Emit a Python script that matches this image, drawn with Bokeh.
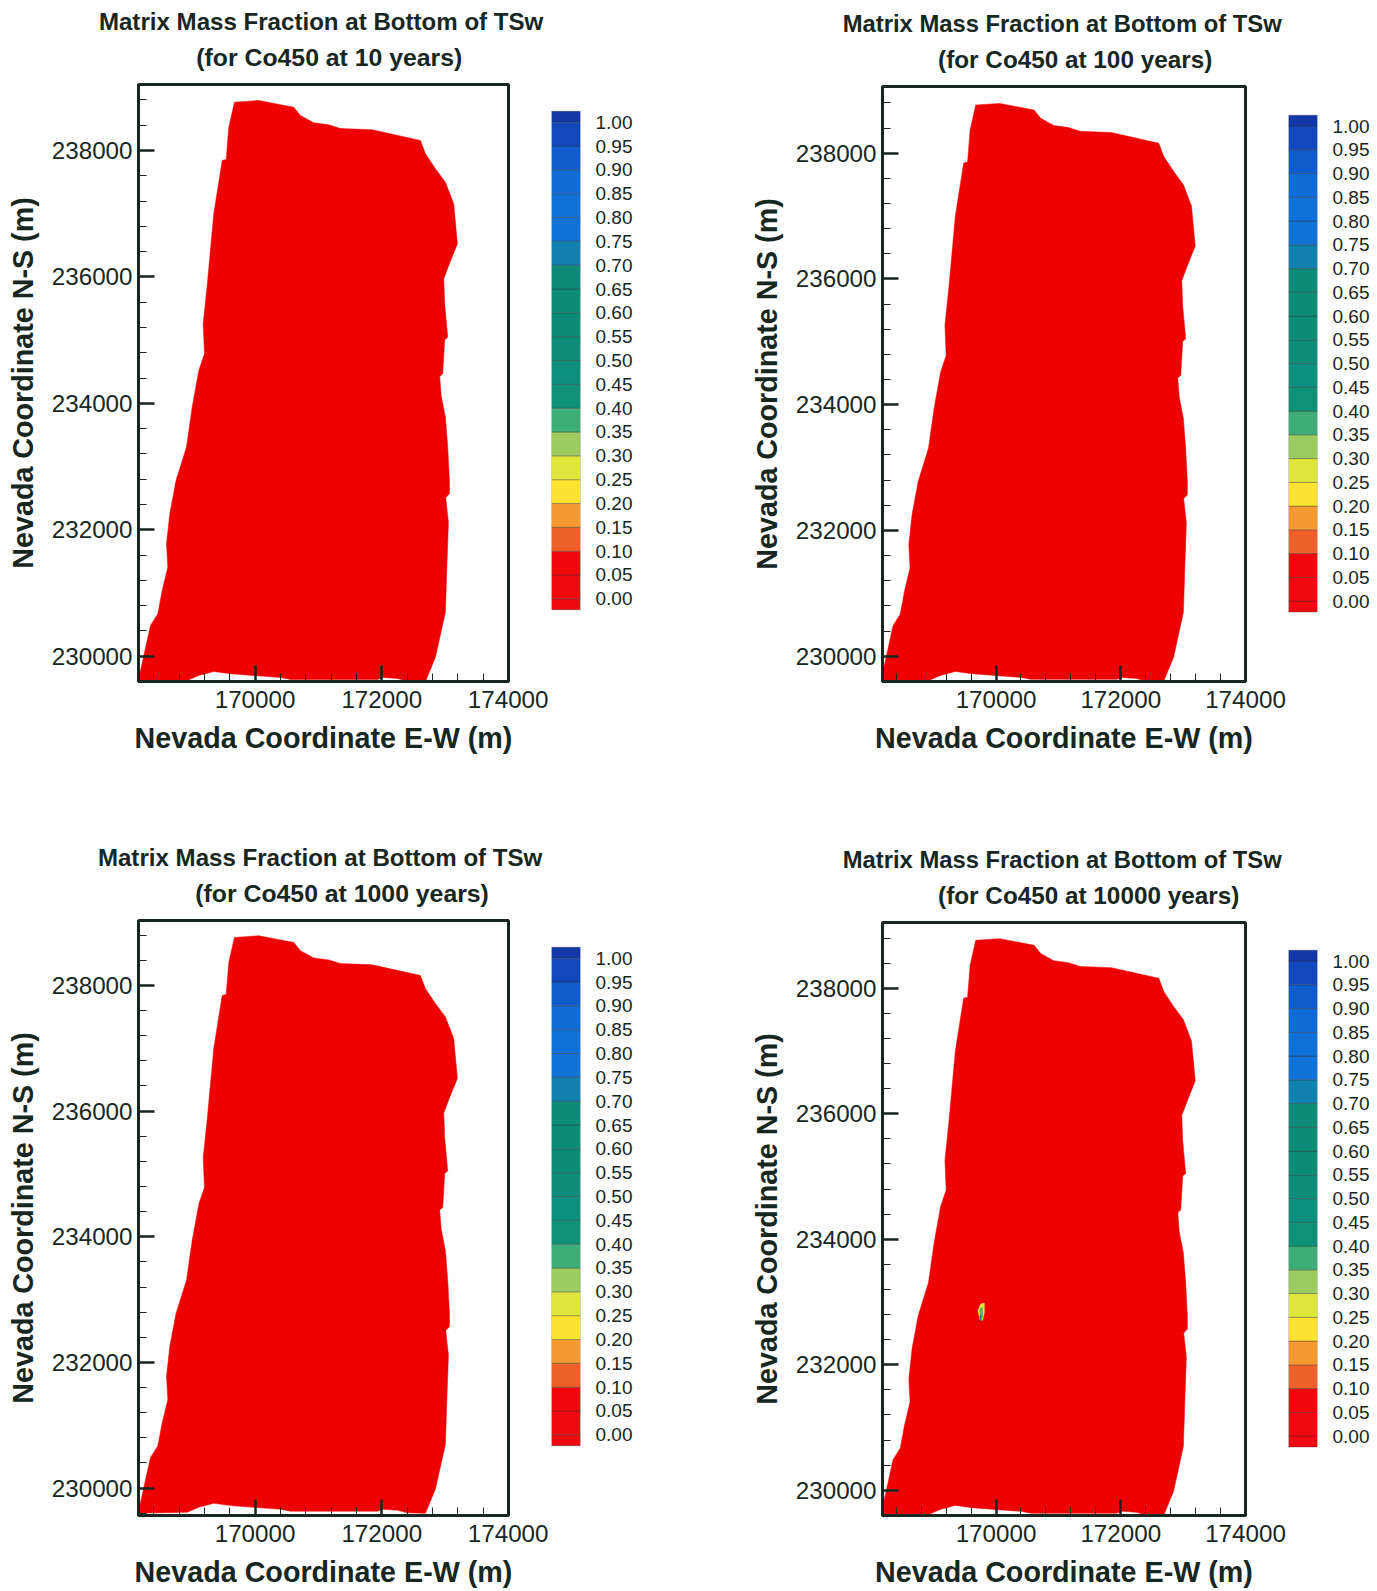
from bokeh.plotting import figure
from bokeh.layouts import column, row
from bokeh.models import FixedTicker, Title, PrintfTickFormatter
from bokeh.embed import file_html
from bokeh.resources import INLINE

boundary_x = [169675,170058,170611,170716,170926,171163,171348,171848,172610,172689,172847,173004,173135,173194,
              173057,172978,172993,173041,172993,172962,172915,172937,173004,173041,173068,173068,173009,173052,
              173031,173004,172847,172689,172405,172247,172026,171931,171237,170559,170401,169612,169348,169112,
              168928,168160,168192,168349,168465,168534,168622,168602,168654,168752,168917,169007,169112,169201,
              169181,169244,169348,169481,169544,169585]
boundary_y = [238765,238791,238685,238554,238439,238407,238348,238328,238159,237948,237711,237499,237157,236524,
              236181,235971,235575,235047,235006,234468,234425,234125,233781,233307,232780,232569,232506,232120,
              231514,230696,229984,229600,229606,229647,229663,229632,229632,229632,229663,229722,229758,229695,
              229616,229600,229774,230486,230671,231040,231408,231778,232253,232780,233307,233939,234520,234784,
              235259,235865,236999,237842,237858,238369]

spot_yellow_x = [169737,169705,169753,169817,169817,169785]
spot_yellow_y = [232718,232860,232971,232987,232829,232702]
spot_green_x = [169737,169737,169785,169793]
spot_green_y = [232749,232892,232923,232765]
spot_blue_x = [169737,169737,169769,169769]
spot_blue_y = [232702,232781,232781,232702]

years = [10, 100, 1000, 10000]
x_major = [170000, 172000, 174000]
y_major = [230000, 232000, 234000, 236000, 238000]
x_minor = [168400,168800,169200,169600,170400,170800,171200,171600,172400,172800,173200,173600]
y_minor = [229600,230400,230800,231200,231600,232400,232800,233200,233600,234400,234800,235200,235600,
           236400,236800,237200,237600,238400,238800]

band_edges = [-0.023,0.0,0.05,0.10,0.15,0.20,0.25,0.30,0.35,0.40,0.45,0.50,0.55,0.60,0.65,0.70,0.75,0.80,0.85,0.90,0.95,1.0,1.023]
band_colors = ["#ee0a10","#ee0a10","#f0080c","#f0602a","#f59a30","#fbe233","#dfe63c","#9ccb62","#3eae78",
               "#0f9178","#0d8f7f","#0e8c7a","#0c8c76","#0c8b76","#0d8a78","#1080ae","#0f72d4","#0f70d6",
               "#0f6cd6","#0f5ccc","#1148bc","#1238a8"]
cbar_ticks = [0.0,0.05,0.10,0.15,0.20,0.25,0.30,0.35,0.40,0.45,0.50,0.55,0.60,0.65,0.70,0.75,0.80,0.85,0.90,0.95,1.0]

INK = "#17261f"
RED = "#ee0000"
FONT = "Liberation Sans"
PX_PER_UNIT = 476.6


def panel(year, x_start, width, left, right, height, top, bottom, y_lo, y_hi, off1, off2, fs1, fs2, shift=0, spot=False):
    p = figure(title=None, width=width, height=height, x_range=(x_start, 174000), y_range=(y_lo, y_hi),
               output_backend="svg", toolbar_location=None, margin=(shift, 0, 0, 0),
               min_border_left=left, min_border_right=right, min_border_top=top, min_border_bottom=bottom,
               x_axis_label="Nevada Coordinate E-W (m)", y_axis_label="Nevada Coordinate N-S (m)")
    p.patch(boundary_x, boundary_y, fill_color=RED, line_color=RED, line_width=0.5)
    if spot:
        p.patch(spot_yellow_x, spot_yellow_y, fill_color="#e8e23c", line_color=None)
        p.patch(spot_green_x, spot_green_y, fill_color="#5cae6c", line_color=None)
        p.patch(spot_blue_x, spot_blue_y, fill_color="#2a70b0", line_color=None)
    p.grid.visible = False
    p.xaxis.ticker = FixedTicker(ticks=x_major, minor_ticks=x_minor)
    p.yaxis.ticker = FixedTicker(ticks=y_major, minor_ticks=y_minor)
    p.xaxis.major_label_overrides = {v: str(v) for v in x_major}
    p.yaxis.major_label_overrides = {v: str(v) for v in y_major}
    for ax in (p.xaxis[0], p.yaxis[0]):
        ax.major_tick_in = 16
        ax.major_tick_out = 0
        ax.minor_tick_in = 8
        ax.minor_tick_out = 0
        ax.major_tick_line_width = 2.5
        ax.minor_tick_line_width = 1
        ax.major_tick_line_color = INK
        ax.minor_tick_line_color = INK
        ax.axis_line_color = INK
        ax.axis_line_width = 3
        ax.major_label_text_font = FONT
        ax.major_label_text_font_size = "24.2px"
        ax.major_label_text_color = INK
        ax.axis_label_text_font = FONT
        ax.axis_label_text_font_size = "28.7px"
        ax.axis_label_text_font_style = "bold"
        ax.axis_label_text_color = INK
    p.yaxis.major_label_standoff = 6
    p.xaxis.major_label_standoff = 9
    p.yaxis.axis_label_standoff = 10
    p.xaxis.axis_label_standoff = 11
    p.outline_line_color = INK
    p.outline_line_width = 3
    p.outline_line_alpha = 1
    for text, st, off, fs in ((f"(for Co450 at {year} years)", 27, off2, fs2),
                              ("Matrix Mass Fraction at Bottom of TSw", -13, off1, fs1)):
        p.add_layout(Title(text=text, align="left", offset=off, standoff=st, text_font=FONT,
                           text_font_size=fs, text_font_style="bold", text_color=INK), "above")
    return p


def colorbar(width, left, right, height, top, bottom, frame_h, zero_from_bottom, shift=0):
    lo = -zero_from_bottom / PX_PER_UNIT
    hi = (frame_h - zero_from_bottom) / PX_PER_UNIT
    c = figure(title=None, width=width, height=height, x_range=(0, 1), y_range=(lo, hi),
               output_backend="svg", toolbar_location=None, y_axis_location="right", margin=(shift, 0, 0, 0),
               min_border_left=left, min_border_right=right, min_border_top=top, min_border_bottom=bottom)
    c.quad(left=0, right=1, bottom=band_edges[:-1], top=band_edges[1:], fill_color=band_colors,
           line_color="#303030", line_alpha=0.35, line_width=1)
    c.grid.visible = False
    c.xaxis.visible = False
    c.outline_line_color = None
    ax = c.yaxis[0]
    ax.ticker = FixedTicker(ticks=cbar_ticks)
    ax.formatter = PrintfTickFormatter(format="%.2f")
    ax.major_tick_line_color = None
    ax.minor_tick_line_color = None
    ax.major_tick_in = 0
    ax.major_tick_out = 0
    ax.axis_line_color = None
    ax.major_label_standoff = 15
    ax.major_label_text_font = FONT
    ax.major_label_text_font_size = "19px"
    ax.major_label_text_color = INK
    return c


H1, H2 = 800, 791
p1 = panel(years[0], 168160, 548, 138, 40, H1, 84, 119, 229600, 239044, -39.6, 57.8, "24.1px", "24.8px")
c1 = colorbar(182, 3, 150, H1, 84, 119, 597, 82.7)
p2 = panel(years[1], 168180, 558, 152, 43, H1 - 2, 84, 117, 229598, 239060, -39.8, 55.6, "23.8px", "24.3px", shift=2)
c2 = colorbar(89, 0, 60, H1 - 2, 84, 117, 597, 80.7, shift=2)
p3 = panel(years[2], 168160, 548, 138, 40, H2, 120, 76, 229564, 239034, -40.6, 56.8, "24.1px", "24.8px")
c3 = colorbar(182, 3, 150, H2, 120, 76, 595, 80.7)
p4 = panel(years[3], 168180, 558, 152, 43, H2 - 2, 120, 74, 229597, 239048, -39.8, 55.6, "23.8px", "24.3px", shift=2, spot=True)
c4 = colorbar(89, 0, 60, H2 - 2, 120, 74, 595, 79.7, shift=2)

page = column(row(p1, c1, p2, c2), row(p3, c3, p4, c4))
open("out.html", "w").write(file_html(page, INLINE))
